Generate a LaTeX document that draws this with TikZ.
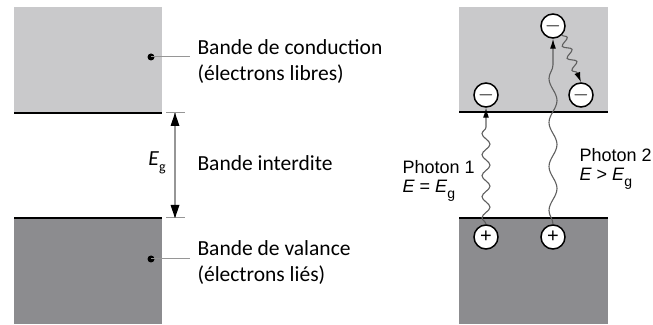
\documentclass[tikz,border=0pt]{standalone}
\usepackage{fontspec}
\setmainfont{Carlito}
\newfontfamily\arialfont{Liberation Sans}
\usetikzlibrary{decorations.pathmorphing,arrows.meta}
\definecolor{condgray}{RGB}{201,201,203}
\definecolor{valgray}{RGB}{140,140,143}
\definecolor{arrgray}{RGB}{150,150,150}
\definecolor{wavegray}{RGB}{95,95,95}
\newcommand{\gsub}{\raisebox{-0.55ex}{\fontsize{14}{14}\selectfont g}}
\begin{document}
\begin{tikzpicture}[x=1pt,y=1pt,>={Latex[length=10pt,width=6pt,black]},
  bandtext/.style={anchor=west,align=left,font=\fontsize{21.5}{26}\selectfont},
  phototext/.style={anchor=west,align=left,font=\arialfont\fontsize{18}{19}\selectfont},
  charge/.style={circle,draw,line width=1.5pt,fill=white,minimum size=24pt,inner sep=0pt,font=\arialfont\fontsize{20}{20}\selectfont},
  wave/.style={wavegray,line width=1.1pt,decorate,decoration={snake,amplitude=4pt,segment length=21pt,post length=9pt}}]
\useasboundingbox (0,0) rectangle (653,324);
% Left bands
\fill[condgray] (14,211) rectangle (162,317);
\fill[valgray] (14,0) rectangle (162,106);
\draw[line width=1.6pt] (14,211) -- (162,211) (14,106) -- (162,106);
% Band labels
\coordinate (cdot) at (151,267);
\coordinate (vdot) at (151,65);
\fill (cdot) circle[radius=3.5];
\fill (vdot) circle[radius=3.5];
\node[bandtext] (cond) at (194,262) {Bande de conduction\\(électrons libres)};
\node[bandtext] (gap) at (194,161) {Bande interdite};
\node[bandtext] (val) at (194,61) {Bande de valance\\(électrons liés)};
\draw[arrgray,line width=1pt] (cdot) -- (190,267) (vdot) -- (190,65);
% Gap arrow
\coordinate (gtop) at (175,211);
\coordinate (gbot) at (175,106);
\draw[arrgray,line width=1pt] (166,211) -- (185,211) (166,106) -- (185,106);
\draw[arrgray,line width=1.6pt] (gtop) -- (gbot);
\fill (gtop) -- ++(-4.5,-13) -- ++(9,0) -- cycle;
\fill (gbot) -- ++(-4.5,13) -- ++(9,0) -- cycle;
\node[font=\fontsize{21.5}{26}\selectfont] (eg) at (157,161) {\textit{E}\gsub};
% Right bands
\fill[condgray] (459,212) rectangle (608,317);
\fill[valgray] (459,0) rectangle (608,106);
\draw[line width=1.6pt] (459,212) -- (608,212) (459,106) -- (608,106);
% Electrons and holes
\node[charge] (e1) at (486,229) {$-$};
\node[charge] (e2) at (553,298) {$-$};
\node[charge] (e3) at (581,229) {$-$};
\node[charge] (h1) at (486,87) {+};
\node[charge] (h2) at (553,87) {+};
% Photons
\draw[->,wave] (h1) -- (e1);
\draw[->,wave,decoration={snake,amplitude=4pt,segment length=44pt,post length=9pt}] (h2) -- (e2);
\draw[->,wave,decoration={snake,amplitude=4pt,segment length=13pt,post length=9pt}] (e2.south east) -- (e3.north);
\node[phototext] (p1) at (399,143) {Photon 1\\\textit{E} = \textit{E}\gsub};
\node[phototext] (p2) at (576,155) {Photon 2\\\textit{E} > \textit{E}\gsub};
\end{tikzpicture}
\end{document}
